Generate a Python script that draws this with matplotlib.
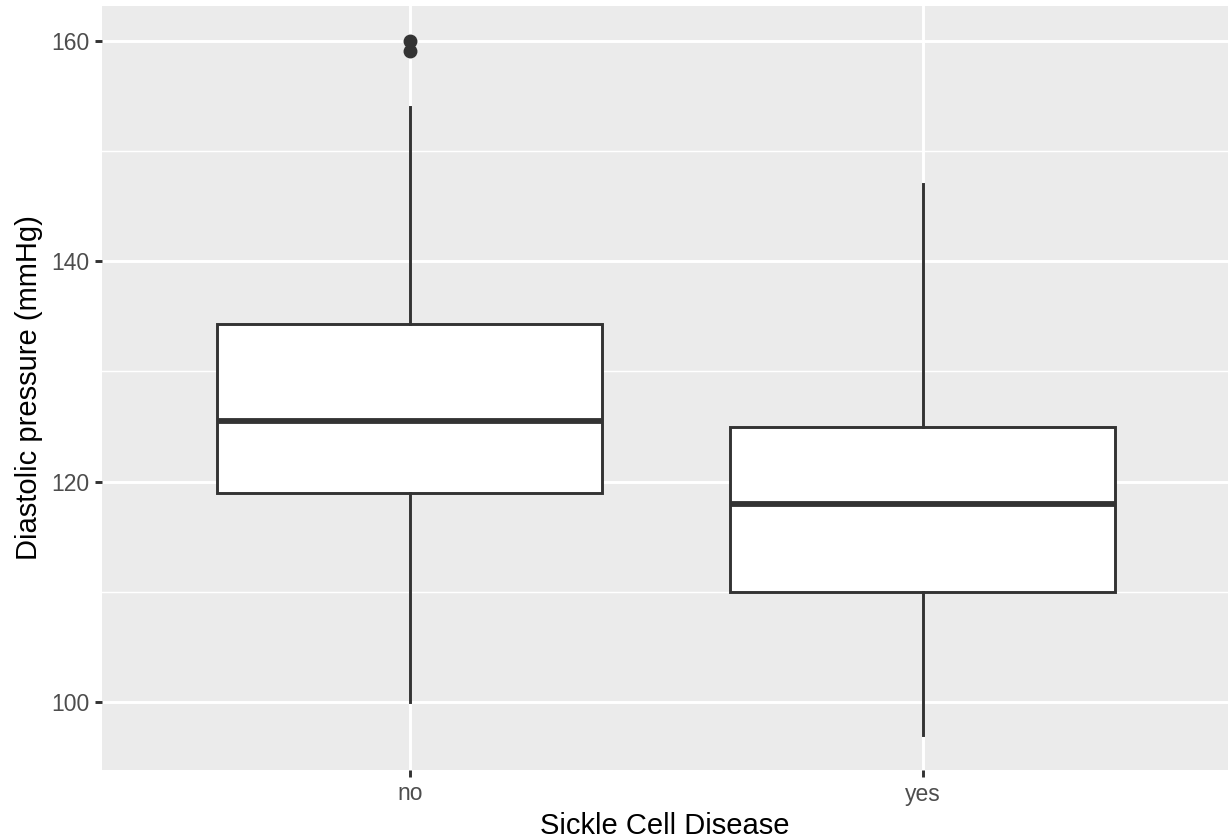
import matplotlib
matplotlib.use("Agg")
import matplotlib.pyplot as plt
from matplotlib.ticker import MultipleLocator

plt.rcParams["font.family"] = ["Liberation Sans", "DejaVu Sans"]

# boxplot stats
groups = ["no", "yes"]
q1 = [119.0, 110.0]
med = [125.5, 118.0]
q3 = [134.3, 125.0]
whislo = [100.0, 97.0]
whishi = [154.0, 147.0]
fliers = [[159.1, 160.0], []]

dark = "#333333"

fig = plt.figure(figsize=(12.28, 8.39), dpi=100)
ax = fig.add_axes([102 / 1228, 69 / 839, 1 - 102 / 1228, 764 / 839])
ax.set_facecolor("#EBEBEB")

stats = []
for i in range(len(groups)):
    stats.append({"label": groups[i], "q1": q1[i], "med": med[i], "q3": q3[i],
                  "whislo": whislo[i], "whishi": whishi[i], "fliers": fliers[i]})

ax.bxp(stats, positions=[1, 2], widths=0.75, patch_artist=True, showcaps=False,
       boxprops=dict(facecolor="white", edgecolor=dark, linewidth=2.1),
       whiskerprops=dict(color=dark, linewidth=2.1),
       medianprops=dict(color=dark, linewidth=4.2, solid_capstyle="butt"),
       flierprops=dict(marker="o", markerfacecolor=dark, markeredgecolor=dark, markersize=9),
       zorder=3)

ax.set_xlim(0.4, 2.595)
ax.set_ylim(93.85, 163.15)
ax.yaxis.set_major_locator(MultipleLocator(20))
ax.yaxis.set_minor_locator(MultipleLocator(10))
ax.set_xticks([1, 2])
ax.set_xticklabels(groups)

ax.grid(True, which="major", color="white", linewidth=2.1, zorder=0)
ax.grid(True, which="minor", axis="y", color="white", linewidth=1.05, zorder=0)
ax.set_axisbelow(True)
for s in ax.spines.values():
    s.set_visible(False)

ax.tick_params(axis="both", which="major", length=5, width=2.1, color=dark,
               labelsize=16.5, labelcolor="#4D4D4D", pad=4)
ax.tick_params(axis="both", which="minor", length=0)

ax.set_xlabel("Sickle Cell Disease", fontsize=21, color="black", labelpad=5)
ax.set_ylabel("Diastolic pressure (mmHg)", fontsize=21, color="black", labelpad=6)

fig.savefig("out.png", dpi=100)
